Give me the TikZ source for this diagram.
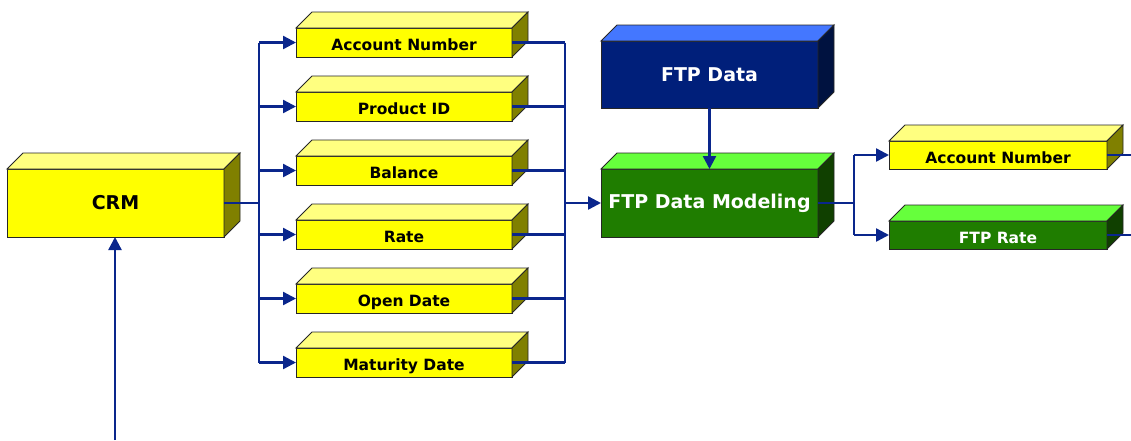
\documentclass[tikz,border=0pt]{standalone}
\usepackage{fontspec}
\setmainfont{DejaVu Sans}
\usetikzlibrary{arrows.meta}
\definecolor{linec}{RGB}{10,38,140}
\definecolor{yfront}{RGB}{255,255,0}
\definecolor{ytop}{RGB}{255,255,128}
\definecolor{yside}{RGB}{128,128,0}
\definecolor{bfront}{RGB}{0,31,122}
\definecolor{btop}{RGB}{68,119,255}
\definecolor{bside}{RGB}{0,18,64}
\definecolor{gfront}{RGB}{31,125,0}
\definecolor{gtop}{RGB}{102,255,60}
\definecolor{gside}{RGB}{16,64,0}
\newcommand\cubefaces[3]{%
  \filldraw[fill=#2,edgec] (#1.north west) -- ++(16,-16) -- ([shift={(16,-16)}]#1.north east) -- (#1.north east) -- cycle;
  \filldraw[fill=#3,edgec] (#1.north east) -- ++(16,-16) -- ([shift={(16,-16)}]#1.south east) -- (#1.south east) -- cycle;}
\tikzset{
  edgec/.style={draw=black!85, line width=0.9pt},
  front/.style={edgec, outer sep=0pt, inner sep=0pt, font=\bfseries\fontsize{15.5}{18}\selectfont},
  smallbox/.style={front, fill=yfront, minimum width=216, minimum height=29, text depth=0pt, text height=16pt},
  bigbox/.style={front, minimum width=217, minimum height=68, font=\bfseries\fontsize{19}{22}\selectfont},
  conn/.style={draw=linec, line width=2.4pt},
  arr/.style={conn, -{Triangle[length=13pt,width=13pt]}},
}
\begin{document}
\begin{tikzpicture}[x=1pt,y=-1pt]
\useasboundingbox (0,0) rectangle (1131,440);
% CRM
\node[bigbox, fill=yfront] (crm) at (115.5,203) {CRM};
\cubefaces{crm}{ytop}{yside}
% attribute boxes
\node[smallbox] (an) at (404,42.5) {Account Number};
\cubefaces{an}{ytop}{yside}
\node[smallbox] (pid) at (404,106.5) {Product ID};
\cubefaces{pid}{ytop}{yside}
\node[smallbox] (bal) at (404,170.5) {Balance};
\cubefaces{bal}{ytop}{yside}
\node[smallbox] (rate) at (404,234.5) {Rate};
\cubefaces{rate}{ytop}{yside}
\node[smallbox] (od) at (404,298.5) {Open Date};
\cubefaces{od}{ytop}{yside}
\node[smallbox] (md) at (404,362.5) {Maturity Date};
\cubefaces{md}{ytop}{yside}
% FTP Data
\node[bigbox, fill=bfront, text=white, minimum height=67] (fd) at (709.5,74.5) {FTP Data};
\cubefaces{fd}{btop}{bside}
% FTP Data Modeling
\node[bigbox, fill=gfront, text=white] (fm) at (709.5,203) {FTP Data Modeling};
\cubefaces{fm}{gtop}{gside}
% output boxes
\node[smallbox, minimum width=218, minimum height=28] (ran) at (998,155) {Account Number};
\cubefaces{ran}{ytop}{yside}
\node[smallbox, fill=gfront, text=white, minimum width=218, minimum height=28] (rr) at (998,235) {FTP Rate};
\cubefaces{rr}{gtop}{gside}
% bus coordinates
\coordinate (busL) at (259,0);
\coordinate (busR) at (565,0);
\coordinate (busO) at (854,0);
\coordinate (edge) at (1131,0);
\coordinate (src) at (115,440);
% CRM to attributes
\draw[conn] (crm.east) -- (crm.east -| busL);
\draw[conn] (an.west -| busL) -- (md.west -| busL);
\foreach \n in {an,pid,bal,rate,od,md}{
  \draw[arr] (\n.west -| busL) -- (\n.west);
  \draw[conn] (\n.east) -- (\n.east -| busR);
}
\draw[conn] (an.east -| busR) -- (md.east -| busR);
\draw[arr] (fm.west -| busR) -- (fm.west);
% FTP Data to modeling
\draw[arr] (fd.south) -- (fm.north);
% modeling to outputs
\draw[conn] (fm.east) -- (fm.east -| busO);
\draw[conn] (ran.west -| busO) -- (rr.west -| busO);
\draw[arr] (ran.west -| busO) -- (ran.west);
\draw[arr] (rr.west -| busO) -- (rr.west);
\draw[conn] (ran.east) -- (ran.east -| edge);
\draw[conn] (rr.east) -- (rr.east -| edge);
% input to CRM
\draw[arr] (src) -- (src |- crm.south);
\end{tikzpicture}
\end{document}
